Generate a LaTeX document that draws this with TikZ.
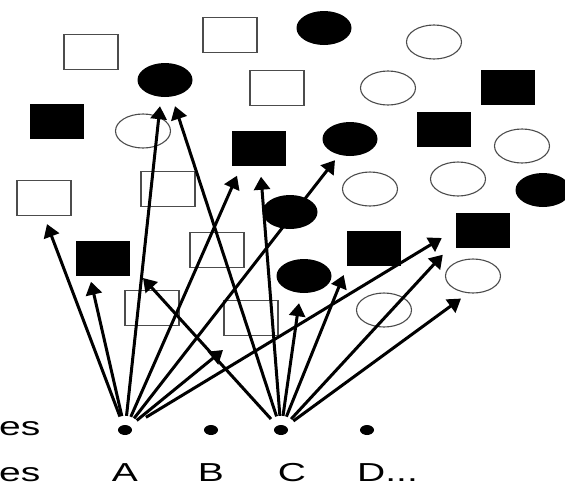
\documentclass[tikz,border=0pt]{standalone}
\usepackage{fontspec}
\setmainfont{Liberation Sans}
\usetikzlibrary{shapes.geometric,arrows.meta}

\tikzset{
	osq/.style={draw=black!70,line width=1.1pt,minimum width=54pt,minimum height=35pt,inner sep=0pt},
	fsq/.style={fill=black,minimum width=54pt,minimum height=35pt,inner sep=0pt},
	oel/.style={ellipse,draw=black!70,line width=1.1pt,minimum width=55pt,minimum height=34pt,inner sep=0pt},
	fel/.style={ellipse,fill=black,minimum width=55pt,minimum height=34pt,inner sep=0pt},
	srcdot/.style={ellipse,fill=black,minimum width=14pt,minimum height=10pt,inner sep=0pt},
	lbl/.style={font=\fontsize{26}{29}\selectfont,inner sep=0pt},
	link/.style={-{Triangle[length=13pt,width=16pt]},line width=3pt,shorten <=9pt}
}
\newcommand{\wide}[1]{\scalebox{1.5}[1]{#1}}

\begin{document}
\begin{tikzpicture}[x=1pt,y=-1pt]
	\useasboundingbox (0,0) rectangle (565,488);
	\clip (0,0) rectangle (565,488);

	% open squares
	\node[osq] (os1) at (91,52) {};
	\node[osq] (os2) at (230,35) {};
	\node[osq] (os3) at (277,88) {};
	\node[osq] (os4) at (44,198) {};
	\node[osq] (os5) at (168,189) {};
	\node[osq] (os6) at (217,250) {};
	\node[osq] (os7) at (152,308) {};
	\node[osq] (os8) at (251,318) {};
	% filled squares
	\node[fsq] (fs1) at (508,87) {};
	\node[fsq] (fs2) at (57,121) {};
	\node[fsq] (fs3) at (259,148) {};
	\node[fsq] (fs4) at (444,129) {};
	\node[fsq] (fs5) at (103,258) {};
	\node[fsq] (fs6) at (374,248) {};
	\node[fsq] (fs7) at (483,230) {};
	% open circles
	\node[oel] (oe1) at (434,42) {};
	\node[oel] (oe2) at (388,88) {};
	\node[oel] (oe3) at (143,131) {};
	\node[oel] (oe4) at (522,146) {};
	\node[oel] (oe5) at (370,189) {};
	\node[oel] (oe6) at (458,179) {};
	\node[oel] (oe7) at (473,276) {};
	\node[oel] (oe8) at (384,310) {};
	% filled circles
	\node[fel] (fe1) at (324,28) {};
	\node[fel] (fe2) at (165,80) {};
	\node[fel] (fe3) at (350,139) {};
	\node[fel] (fe4) at (290,212) {};
	\node[fel] (fe5) at (543,190) {};
	\node[fel] (fe6) at (304,276) {};

	% sources
	\node[srcdot] (dA) at (125,430) {};
	\node[srcdot] (dB) at (211,430) {};
	\node[srcdot] (dC) at (281,430) {};
	\node[srcdot] (dD) at (367,430) {};
	\coordinate (endA) at (223,350);
	\coordinate (endC) at (143,278);

	\node[lbl,anchor=base west] (t1) at (-1,435) {\wide{es}};
	\node[lbl,anchor=base west] (t2) at (-1,481) {\wide{es}};
	\node[lbl,anchor=base] (lA) at (125,481) {\wide{A}};
	\node[lbl,anchor=base] (lB) at (211,481) {\wide{B}};
	\node[lbl,anchor=base] (lC) at (292,481) {\wide{C}};
	\node[lbl,anchor=base west] (lD) at (357,481) {\wide{D...}};

	% links from A
	\draw[link] (dA) -- ([shift={(3,8)}]os4.south);
	\draw[link] (dA) -- ([shift={(-12,6)}]fs5.south);
	\draw[link] (dA) -- ([shift={(-5,9)}]fe2.south);
	\draw[link] (dA) -- ([shift={(-22,10)}]fs3.south);
	\draw[link] (dA) -- ([shift={(-15,4)}]fe3.south);
	\draw[link] (dA) -- (endA);
	\draw[link,shorten <=18pt] (dA) -- ([shift={(-14,8)}]fs7.west);
	% links from C
	\draw[link] (dC) -- ([shift={(10,9)}]fe2.south);
	\draw[link] (dC) -- (endC);
	\draw[link] (dC) -- ([shift={(2,11)}]fs3.south);
	\draw[link] (dC) -- ([shift={(-5,10)}]fe6.south);
	\draw[link] (dC) -- ([shift={(12,-1)}]fe6.east);
	\draw[link] (dC) -- ([shift={(-13,7)}]fs7.south west);
	\draw[link] (dC) -- ([shift={(-12,5)}]oe7.south);
\end{tikzpicture}
\end{document}
